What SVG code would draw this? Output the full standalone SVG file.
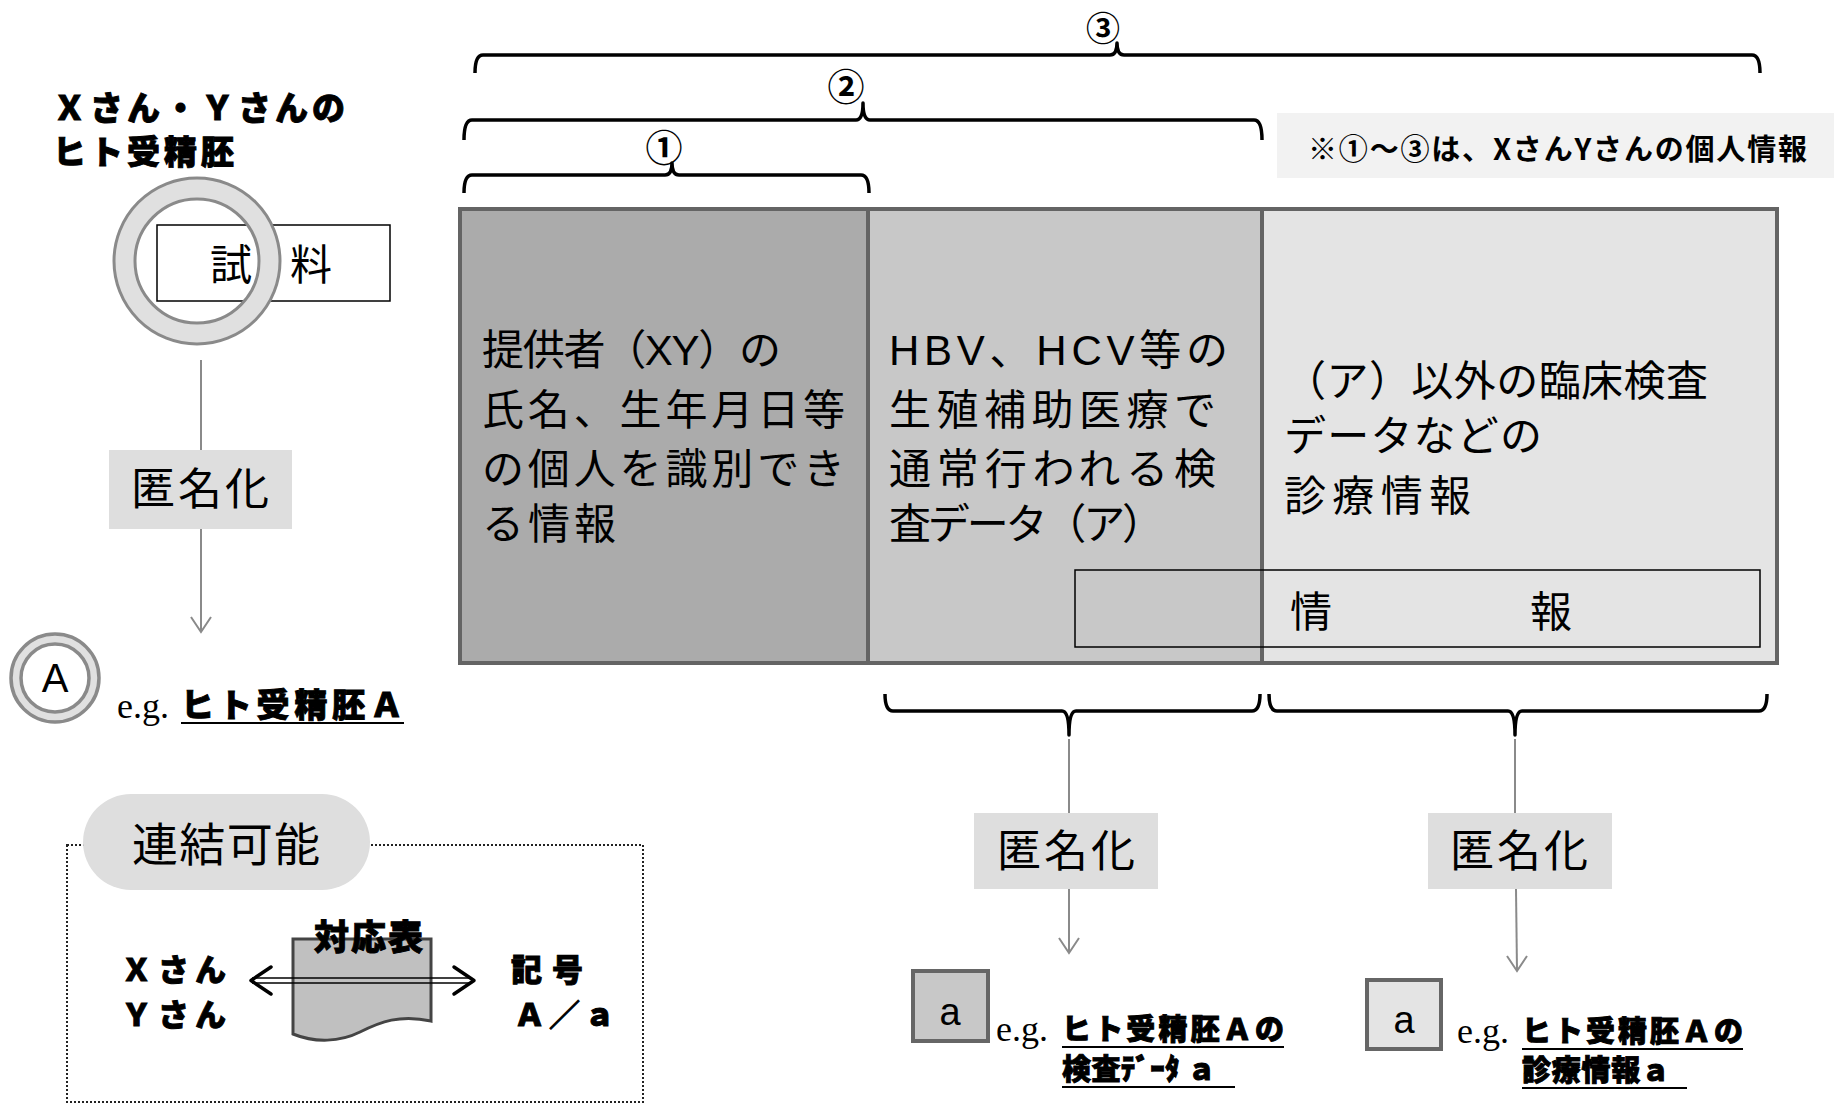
<svg xmlns="http://www.w3.org/2000/svg" width="1834" height="1105" viewBox="0 0 1834 1105">
<style>
  .reg { font-family: "Liberation Sans", "Noto Sans CJK JP", sans-serif; fill: #000; }
  .cjk { font-family: "Noto Sans CJK JP", sans-serif; fill: #000; }
  .heavy { font-family: "Noto Sans CJK JP", sans-serif; font-weight: 900; fill: #000; stroke: #000; stroke-width: 0.9; }
  .serif { font-family: "Liberation Serif", serif; fill: #000; }
  .box { stroke: #646464; stroke-width: 4; }
  .anon { fill: #dedede; }
  .conn { fill: none; stroke: #8a8a8a; stroke-width: 2; }
  .brk { fill: none; stroke: #000; stroke-width: 3.5; stroke-linejoin: round; }
  .ul { stroke: #000; stroke-width: 2; }
</style>

<g id="title">
  <text class="heavy" x="53" y="120" font-size="33" textLength="292" lengthAdjust="spacing">Ｘさん・Ｙさんの</text>
  <text class="heavy" x="53" y="164" font-size="33" textLength="181" lengthAdjust="spacing">ヒト受精胚</text>
</g>

<g id="sample">
  <rect x="157" y="225" width="233" height="76" fill="#fff" stroke="#000" stroke-width="1.5"/>
  <circle cx="197" cy="261" r="72.5" fill="none" stroke="#e0e0e0" stroke-width="21"/>
  <circle cx="197" cy="261" r="83" fill="none" stroke="#8a8a8a" stroke-width="3"/>
  <circle cx="197" cy="261" r="62" fill="none" stroke="#8a8a8a" stroke-width="3"/>
  <text class="reg" x="210" y="280" font-size="42">試</text>
  <text class="reg" x="290" y="280" font-size="42">料</text>
</g>

<g id="anon-left">
  <rect class="anon" x="109" y="450" width="183" height="79"/>
  <text class="reg" x="131" y="505" font-size="44" textLength="138" lengthAdjust="spacing">匿名化</text>
</g>

<g id="embryo-A">
  <circle cx="55" cy="678" r="39" fill="none" stroke="#e0e0e0" stroke-width="10"/>
  <circle cx="55" cy="678" r="44" fill="none" stroke="#8a8a8a" stroke-width="3.5"/>
  <circle cx="55" cy="678" r="34" fill="#fff" stroke="#8a8a8a" stroke-width="3.5"/>
  <text class="reg" x="55" y="692" font-size="40" text-anchor="middle">A</text>
  <text class="serif" x="117" y="718" font-size="36">e.g.</text>
  <text class="heavy" x="181" y="717" font-size="33" textLength="222" lengthAdjust="spacing">ヒト受精胚Ａ</text>
  <line class="ul" x1="181" y1="723" x2="404" y2="723"/>
</g>

<g id="linkable">
  <rect x="67" y="845" width="576" height="257" fill="none" stroke="#222" stroke-width="2" stroke-dasharray="2 2"/>
  <rect x="83" y="794" width="287" height="96" rx="48" fill="#dedede"/>
  <text class="reg" x="132" y="861" font-size="46" textLength="188" lengthAdjust="spacing">連結可能</text>
  <text class="heavy" x="121" y="981" font-size="31" textLength="105" lengthAdjust="spacing">Ｘさん</text>
  <text class="heavy" x="121" y="1026" font-size="31" textLength="105" lengthAdjust="spacing">Ｙさん</text>
  <path d="M293,939 H431 V1021 C400,1014 380,1022 360,1032 C340,1042 315,1043 293,1034 Z" fill="#c0c0c0" stroke="#444" stroke-width="3"/>
  <text class="heavy" x="314" y="950" font-size="35" textLength="109" lengthAdjust="spacing">対応表</text>
  <text class="heavy" x="511" y="981" font-size="31" textLength="72" lengthAdjust="spacing">記号</text>
  <text class="heavy" x="514" y="1026" font-size="31" textLength="101" lengthAdjust="spacing">Ａ／ａ</text>
</g>

<g id="info-box-1">
  <rect class="box" x="460" y="209" width="408" height="454" fill="#ababab"/>
  <text class="reg" x="482" y="365" font-size="42" textLength="299" lengthAdjust="spacing">提供者（XY）の</text>
  <text class="reg" x="482" y="425" font-size="42" textLength="363" lengthAdjust="spacing">氏名、生年月日等</text>
  <text class="reg" x="482" y="484" font-size="42" textLength="363" lengthAdjust="spacing">の個人を識別でき</text>
  <text class="reg" x="482" y="539" font-size="42" textLength="134" lengthAdjust="spacing">る情報</text>
</g>

<g id="info-box-2">
  <rect class="box" x="868" y="209" width="394" height="454" fill="#c8c8c8"/>
  <text class="reg" x="889" y="365" font-size="42" textLength="339" lengthAdjust="spacing">HBV、HCV等の</text>
  <text class="reg" x="889" y="425" font-size="42" textLength="327" lengthAdjust="spacing">生殖補助医療で</text>
  <text class="reg" x="889" y="484" font-size="42" textLength="327" lengthAdjust="spacing">通常行われる検</text>
  <text class="reg" x="889" y="539" font-size="42" textLength="275" lengthAdjust="spacing">査データ（ア）</text>
</g>

<g id="info-box-3">
  <rect class="box" x="1262" y="209" width="515" height="454" fill="#e4e4e4"/>
  <text class="reg" x="1284" y="396" font-size="42" textLength="424" lengthAdjust="spacing">（ア）以外の臨床検査</text>
  <text class="reg" x="1284" y="451" font-size="42" textLength="258" lengthAdjust="spacing">データなどの</text>
  <text class="reg" x="1284" y="511" font-size="42" textLength="187" lengthAdjust="spacing">診療情報</text>
</g>

<g id="info-strip">
  <rect x="1075" y="570" width="685" height="77" fill="none" stroke="#000" stroke-width="1.5"/>
  <text class="reg" x="1290" y="627" font-size="42">情</text>
  <text class="reg" x="1530" y="627" font-size="42">報</text>
</g>

<g id="note">
  <rect x="1277" y="113" width="557" height="65" fill="#f2f2f2"/>
  <text class="cjk" x="1308" y="160" font-size="29" font-weight="bold" textLength="499" lengthAdjust="spacing">※①～③は、XさんYさんの個人情報</text>
</g>

<g id="brackets">
  <path class="brk" d="M475,73 Q475,55 483,55 L1110,55 Q1117,55 1117,43 Q1117,55 1124,55 L1752,55 Q1760,55 1760,73"/>
  <path class="brk" d="M464,140 Q464,120 472,120 L856,120 Q863,120 863,103 Q863,120 870,120 L1254,120 Q1262,120 1262,140"/>
  <path class="brk" d="M464,193 Q464,175 472,175 L665,175 Q672,175 672,163 Q672,175 679,175 L861,175 Q869,175 869,193"/>
  <path class="brk" d="M885,694 Q885,711 893,711 L1062,711 Q1069,711 1069,735 Q1069,711 1076,711 L1252,711 Q1260,711 1260,694"/>
  <path class="brk" d="M1269,694 Q1269,711 1277,711 L1508,711 Q1515,711 1515,735 Q1515,711 1522,711 L1759,711 Q1767,711 1767,694"/>
  <text class="cjk" x="664" y="162" font-size="37" font-weight="bold" text-anchor="middle">①</text>
  <text class="cjk" x="846" y="101" font-size="37" font-weight="bold" text-anchor="middle">②</text>
  <text class="cjk" x="1103" y="41" font-size="34" font-weight="bold" text-anchor="middle">③</text>
</g>

<g id="anon-mid">
  <rect class="anon" x="974" y="813" width="184" height="76"/>
  <text class="reg" x="997" y="867" font-size="44" textLength="138" lengthAdjust="spacing">匿名化</text>
</g>

<g id="anon-right">
  <rect class="anon" x="1428" y="813" width="184" height="76"/>
  <text class="reg" x="1450" y="867" font-size="44" textLength="138" lengthAdjust="spacing">匿名化</text>
</g>

<g id="data-a">
  <rect x="913" y="971" width="75" height="70" fill="#c8c8c8" stroke="#666" stroke-width="4"/>
  <text class="reg" x="950" y="1025" font-size="38" text-anchor="middle">a</text>
  <text class="serif" x="996" y="1041" font-size="36">e.g.</text>
  <text class="heavy" x="1062" y="1040" font-size="29" textLength="222" lengthAdjust="spacing">ヒト受精胚Ａの</text>
  <line class="ul" x1="1062" y1="1047" x2="1284" y2="1047"/>
  <text class="heavy" x="1062" y="1080" font-size="29" textLength="154" lengthAdjust="spacing">検査ﾃﾞｰﾀ ａ</text>
  <line class="ul" x1="1062" y1="1087" x2="1235" y2="1087"/>
</g>

<g id="clinical-a">
  <rect x="1367" y="980" width="74" height="69" fill="#e4e4e4" stroke="#666" stroke-width="4"/>
  <text class="reg" x="1404" y="1033" font-size="38" text-anchor="middle">a</text>
  <text class="serif" x="1457" y="1043" font-size="36">e.g.</text>
  <text class="heavy" x="1522" y="1042" font-size="29" textLength="221" lengthAdjust="spacing">ヒト受精胚Ａの</text>
  <line class="ul" x1="1522" y1="1049" x2="1743" y2="1049"/>
  <text class="heavy" x="1522" y="1081" font-size="29" textLength="148" lengthAdjust="spacing">診療情報ａ</text>
  <line class="ul" x1="1522" y1="1088" x2="1687" y2="1088"/>
</g>

<g id="connectors">
  <line class="conn" x1="201" y1="360" x2="201" y2="450"/>
  <line class="conn" x1="201" y1="529" x2="201" y2="632"/>
  <polyline class="conn" points="191,617 201,632 211,617"/>
  <line class="conn" x1="1069" y1="739" x2="1069" y2="813"/>
  <line class="conn" x1="1069" y1="889" x2="1069" y2="953"/>
  <polyline class="conn" points="1059,938 1069,953 1079,938"/>
  <line class="conn" x1="1515" y1="739" x2="1515" y2="813"/>
  <line class="conn" x1="1516" y1="889" x2="1517" y2="971"/>
  <polyline class="conn" points="1507,956 1517,971 1527,956"/>
  <g id="link-arrow">
    <line x1="252" y1="978" x2="472" y2="978" stroke="#000" stroke-width="1.5"/>
    <line x1="252" y1="983" x2="472" y2="983" stroke="#000" stroke-width="1.5"/>
    <polyline points="271,967 251,980.5 271,994" fill="none" stroke="#000" stroke-width="3.5" stroke-linecap="round" stroke-linejoin="round"/>
    <polyline points="454,967 474,980.5 454,994" fill="none" stroke="#000" stroke-width="3.5" stroke-linecap="round" stroke-linejoin="round"/>
  </g>
</g>
</svg>
